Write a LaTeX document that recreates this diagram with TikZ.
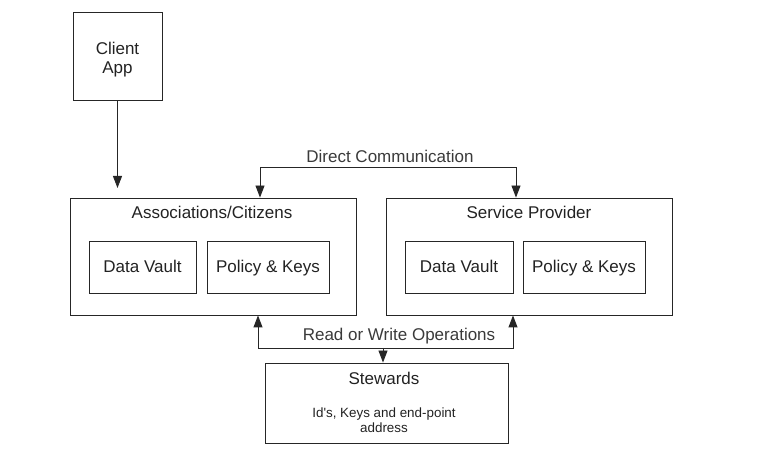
\documentclass[tikz,border=0pt]{standalone}
\usepackage{fontspec}
\setmainfont{Liberation Sans}
\newfontfamily\plainfont{Liberation Sans}
\usetikzlibrary{arrows.meta}
\definecolor{txt}{HTML}{222222}
\definecolor{lbl}{HTML}{3A3A3A}
\begin{document}
\begin{tikzpicture}[x=1pt,y=-1pt,
  box/.style={draw=black!85,line width=0.9pt,rectangle,inner sep=0pt},
  big/.style={font=\fontsize{17}{19}\selectfont,text=txt,inner sep=0pt,align=center},
  inner/.style={box,big,text height=12pt,text depth=0pt,minimum height=52pt},
  small/.style={font=\plainfont\fontsize{13.4}{15}\selectfont,text=txt,inner sep=0pt,align=center},
  lab/.style={font=\fontsize{17}{19}\selectfont,text=lbl,inner sep=0pt},
  tip/.tip={Triangle[length=12pt,width=9pt]},
  arr/.style={line width=0.9pt,draw=black!85,-tip},
  darr/.style={line width=0.9pt,draw=black!85,tip-tip}]
\useasboundingbox (0,0) rectangle (761,454);
% Client App
\node[box,minimum width=89pt,minimum height=88pt] (client) at (117.5,56) {};
\node[big] (clientt) at (117.5,59.5) {Client\\App};
\coordinate (cend) at (117.5,188);
\draw[arr] (client.south) -- (cend);
% Associations/Citizens
\node[box,minimum width=286pt,minimum height=117pt] (assoc) at (213,256.5) {};
\node[big] (assoct) at (212,212) {Associations/Citizens};
\node[inner,minimum width=107pt] (dv1) at (142.5,267) {Data Vault};
\node[inner,minimum width=122pt] (pk1) at (268,267) {Policy \& Keys};
% Service Provider
\node[box,minimum width=286pt,minimum height=117pt] (sp) at (529,256.5) {};
\node[big] (spt) at (529,212) {Service Provider};
\node[inner,minimum width=108pt] (dv2) at (459,267) {Data Vault};
\node[inner,minimum width=122pt] (pk2) at (584,267) {Policy \& Keys};
% Stewards
\node[box,minimum width=243pt,minimum height=80pt] (stew) at (386.5,403) {};
\node[big] (stewt) at (384,378) {Stewards};
\node[small] (stewd) at (384,420) {Id's, Keys and end-point\\address};
% Direct communication
\coordinate (dcl) at (260,167);
\coordinate (dcr) at (516,167);
\draw[darr] (assoc.north -| dcl) -- (dcl) -- (dcr) -- (sp.north -| dcr);
\node[lab] (dclab) at (390,156) {Direct Communication};
% Read or write
\coordinate (rwl) at (258,348);
\coordinate (rwr) at (513,348);
\coordinate (rwm) at (383,348);
\draw[darr] (assoc.south -| rwl) -- (rwl) -- (rwr) -- (sp.south -| rwr);
\draw[arr] (rwm) -- (stew.north -| rwm);
\node[lab] (rwlab) at (399,336) {Read or Write Operations};
\end{tikzpicture}
\end{document}
